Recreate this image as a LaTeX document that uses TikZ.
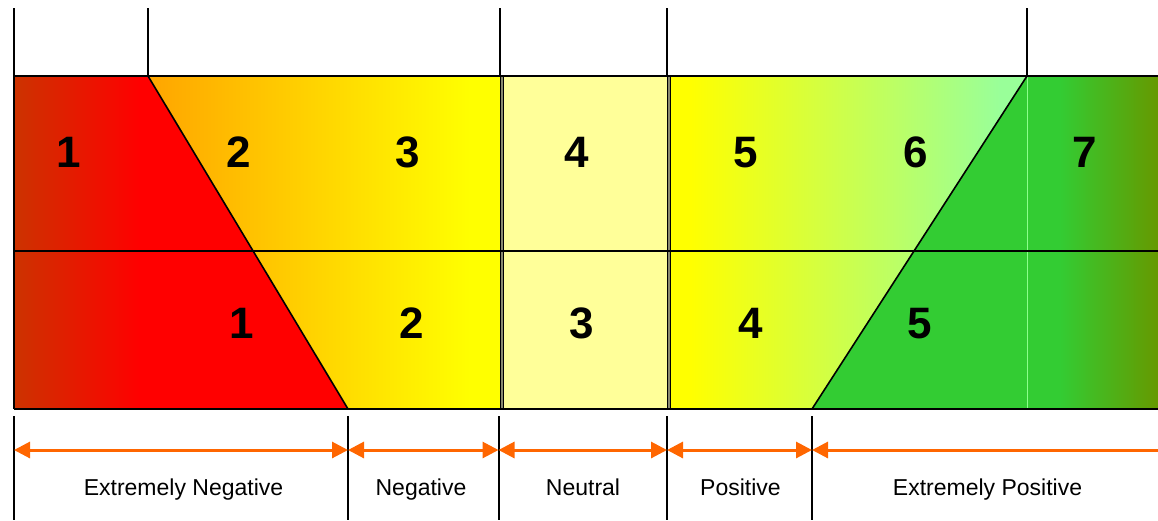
\documentclass[tikz,border=0pt]{standalone}
\usepackage{fontspec}
\setmainfont{Liberation Sans}
\usetikzlibrary{arrows.meta}
\definecolor{brick}{HTML}{CC3300}
\definecolor{orng}{HTML}{FFA500}
\definecolor{yel}{HTML}{FFFF00}
\definecolor{paleyel}{HTML}{FFFF99}
\definecolor{mint}{HTML}{99FF99}
\definecolor{grn}{HTML}{33CC33}
\definecolor{olive}{HTML}{669900}
\definecolor{arroworange}{HTML}{FF6600}
\definecolor{sepgray}{HTML}{8A8A70}
\begin{document}
\begin{tikzpicture}[x=1pt,y=-1pt,
  frame/.style={line width=2pt,black},
  divider/.style={line width=2pt,black},
  digit/.style={font=\fontsize{44}{50}\selectfont\bfseries,inner sep=0pt,anchor=base},
  cat/.style={font=\fontsize{23}{27}\selectfont,inner sep=0pt,anchor=base},
  span/.style={line width=3pt,arroworange,{Triangle[length=16pt,width=16pt]}-{Triangle[length=16pt,width=16pt]}},
  spanleft/.style={line width=3pt,arroworange,{Triangle[length=16pt,width=16pt]}-}]
\useasboundingbox (0,0) rectangle (1158,520);
% coordinates of the bands
\coordinate (tl) at (14,76);
\coordinate (tr) at (1158,76);
\coordinate (ml) at (14,251);
\coordinate (mr) at (1158,251);
\coordinate (bl) at (14,409);
\coordinate (br) at (1158,409);
\coordinate (dA) at (148,76);
\coordinate (dB) at (348,409);
\coordinate (dC) at (1027,76);
\coordinate (dD) at (812,409);
% fills: negative side
\shade[left color=orng,right color=yel] (148,76) rectangle (470,409);
\fill[yel] (469,76) rectangle (500,409);
\begin{scope}
  \clip (tl) -- (dA) -- (dB) -- (bl) -- cycle;
  \shade[left color=brick,right color=red] (14,76) rectangle (140,409);
  \fill[red] (139,76) rectangle (350,409);
\end{scope}
% neutral
\fill[paleyel] (500,76) rectangle (667,409);
% positive side
\fill[yel] (667,76) rectangle (691,409);
\shade[left color=yel,right color=mint] (690,76) rectangle (1000,409);
\fill[mint] (999,76) rectangle (1158,409);
\begin{scope}
  \clip (dC) -- (tr) -- (br) -- (dD) -- cycle;
  \fill[grn] (800,76) rectangle (1061,409);
  \shade[left color=grn,right color=olive] (1060,76) rectangle (1158,409);
\end{scope}
\draw[line width=0.8pt,green!45!white] (1027,76) -- (1027,409);
% neutral separators
\fill[sepgray] (499.5,76) rectangle (504,409);
\fill[sepgray] (666.5,76) rectangle (671,409);
\draw[line width=1.2pt] (500.1,76) -- (500.1,409);
\draw[line width=1.2pt] (503.4,76) -- (503.4,409);
\draw[line width=1.2pt] (667.1,76) -- (667.1,409);
\draw[line width=1.2pt] (670.4,76) -- (670.4,409);
% frame lines
\draw[frame] (tl) -- (tr);
\draw[frame] (ml) -- (mr);
\draw[frame] (bl) -- (br);
\draw[line width=1.6pt] (dA) -- (dB);
\draw[line width=1.6pt] (dC) -- (dD);
\draw[frame] (14,8) -- (bl);
\draw[frame] (148,8) -- (dA);
\draw[frame] (500,8) -- (500,76);
\draw[frame] (667,8) -- (667,76);
\draw[frame] (1027,8) -- (dC);
% digits, top row
\node[digit] (t1) at (69,167) {1};
\node[digit] (t2) at (239,167) {2};
\node[digit] (t3) at (408,167) {3};
\node[digit] (t4) at (577,167) {4};
\node[digit] (t5) at (746,167) {5};
\node[digit] (t6) at (916,167) {6};
\node[digit] (t7) at (1085,167) {7};
% digits, bottom row
\node[digit] (b1) at (242,338) {1};
\node[digit] (b2) at (412,338) {2};
\node[digit] (b3) at (582,338) {3};
\node[digit] (b4) at (751,338) {4};
\node[digit] (b5) at (920,338) {5};
% bottom dividers
\foreach \n/\x in {p1/14,p2/348,p3/498.5,p4/667,p5/812}{
  \coordinate (\n top) at (\x,416);
  \coordinate (\n bot) at (\x,520);
  \coordinate (\n) at (\x,450);
  \draw[divider] (\n top) -- (\n bot);
}
\coordinate (pend) at (1158,450);
\draw[span] (p1) -- (p2);
\draw[span] (p2) -- (p3);
\draw[span] (p3) -- (p4);
\draw[span] (p4) -- (p5);
\draw[spanleft] (p5) -- (pend);
% category labels
\node[cat] (c1) at (183.5,495) {Extremely Negative};
\node[cat] (c2) at (421,495) {Negative};
\node[cat] (c3) at (583,495) {Neutral};
\node[cat] (c4) at (740.5,495) {Positive};
\node[cat] (c5) at (987.5,495) {Extremely Positive};
\end{tikzpicture}
\end{document}
